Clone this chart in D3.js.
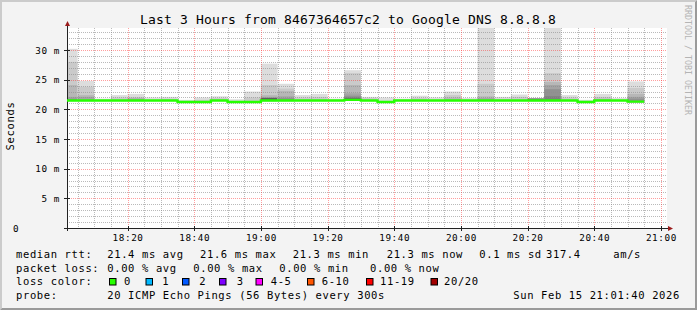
<!DOCTYPE html>
<html>
<head>
<meta charset="utf-8">
<script src="https://cdn.jsdelivr.net/npm/d3@7"></script>
<style>
  html, body { margin: 0; padding: 0; background: #f3f3f3; }
  svg { display: block; }
  text { font-family: "DejaVu Sans Mono", monospace; fill: #000; }
</style>
</head>
<body>
<svg id="chart" width="697" height="310"></svg>
<script>
'use strict';

// ---- data ----
const titleText = 'Last 3 Hours from 8467364657c2 to Google DNS 8.8.8.8';
const yMax = 33.71;                       // ms, top of the plot
const yMajorTicks = [0, 5, 10, 15, 20, 25, 30];
const yTickLabels = ['0', '5 m', '10 m', '15 m', '20 m', '25 m', '30 m'];

// one value per 5 minute step, 18:00 ... 20:50
const medianRtt = [
  21.5, 21.5, 21.5, 21.5, 21.5, 21.5, 21.5, 21.25, 21.25, 21.5,
  21.25, 21.25, 21.5, 21.5, 21.5, 21.5, 21.5, 21.6, 21.5, 21.25,
  21.5, 21.5, 21.5, 21.5, 21.5, 21.5, 21.5, 21.5, 21.5, 21.5,
  21.5, 21.25, 21.5, 21.5, 21.3
];
const minRtt = [
  21.4, 21.4, 21.4, 21.4, 21.4, 21.4, 21.4, 21.15, 21.15, 21.4,
  21.15, 21.15, 21.4, 21.4, 21.4, 21.4, 21.4, 21.5, 21.4, 21.15,
  21.4, 21.4, 21.4, 21.4, 21.4, 21.4, 21.4, 21.4, 21.4, 21.4,
  21.4, 21.15, 21.4, 21.4, 21.2
];
// highest pings of each step, slowest first (outer smoke bands)
const smokeTop = [
  [30.2, 28.0, 24.1, 22.1, 21.8],
  [24.8, 23.8, 22.4, 22.1],
  [21.8],
  [22.4, 22.0],
  [22.6, 22.1, 21.9, 21.8],
  [22.0],
  [22.1, 21.8],
  [21.6],
  [22.0, 21.6],
  [22.2, 21.9],
  [21.7],
  [23.0, 22.0],
  [27.7, 24.1, 22.4, 22.1, 21.95, 21.9, 21.9, 21.85],
  [24.3, 23.5, 23.1, 22.2, 21.9],
  [22.4, 22.0],
  [22.6, 22.1],
  [21.8],
  [26.6, 26.1, 24.1, 22.7, 22.3, 22.0, 21.95],
  [22.1, 21.9],
  [22.0],
  [21.8],
  [22.3, 21.9],
  [22.0],
  [23.0, 22.4, 22.0],
  [21.9],
  [38.0, 24.3, 22.2, 21.9],
  [22.1, 21.8],
  [22.5, 22.1],
  [21.9, 21.85, 21.85, 21.8, 21.8, 21.8],
  [38.5, 26.1, 24.6, 24.1, 23.4, 22.2],
  [22.4, 22.0],
  [21.6],
  [22.6, 22.1, 21.8],
  [21.9],
  [24.7, 23.6, 22.6, 22.1, 21.8]
];

const legendRtt = ['median rtt:', '21.4 ms avg', '21.6 ms max', '21.3 ms min', '21.3 ms now', '0.1 ms sd', '317.4', 'am/s'];
const legendLoss = ['packet loss:', '0.00 % avg', '0.00 % max', '0.00 % min', '0.00 % now'];
const lossLabels = ['0', '1', '2', '3', '4-5', '6-10', '11-19', '20/20'];
const lossColors = ['#26ff00', '#00b8ff', '#0059ff', '#7e00ff', '#ff00ff', '#ff5500', '#ff0000', '#a10000'];
const probeText = ['probe:', '20 ICMP Echo Pings (56 Bytes) every 300s', 'Sun Feb 15 21:01:40 2026'];

// ---- layout ----
const plot = {left: 67, right: 667, top: 28, bottom: 228};
const svg = d3.select('#chart');

const t0 = new Date(2026, 1, 15, 18, 1, 50);
const t1 = new Date(2026, 1, 15, 21, 1, 50);
const x = d3.scaleTime().domain([t0, t1]).range([plot.left, plot.right]);
const y = d3.scaleLinear().domain([0, yMax]).range([plot.bottom, plot.top]);
const step = d3.timeMinute.every(5);
const slots = step.range(new Date(2026, 1, 15, 18, 0), new Date(2026, 1, 15, 20, 55));

// background + 3d frame
svg.append('rect').attr('width', 697).attr('height', 310).attr('fill', '#f3f3f3');
svg.append('polygon').attr('points', '0,0 697,0 695,2 2,2 2,308 0,310').attr('fill', '#cbcbcb');
svg.append('polygon').attr('points', '697,0 697,310 0,310 2,308 695,308 695,2').attr('fill', '#9a9a9a');

svg.append('rect')
  .attr('x', plot.left).attr('y', plot.top)
  .attr('width', plot.right - plot.left).attr('height', plot.bottom - plot.top)
  .attr('fill', '#fff');

svg.append('clipPath').attr('id', 'clip').append('rect')
  .attr('x', plot.left).attr('y', plot.top)
  .attr('width', plot.right - plot.left).attr('height', plot.bottom - plot.top);

// smoke (smokeping grey scale, lighter outside)
const bandColor = k => {
  const c = Math.floor(190 / 10 * (10 - (k + 1))) + 50;
  return d3.rgb(c, c, c).formatHex();
};
const smoke = svg.append('g').attr('clip-path', 'url(#clip)');
slots.forEach((s, i) => {
  const xa = x(s), xb = x(step.offset(s, 1));
  smokeTop[i].forEach((v, k) => {
    smoke.append('rect')
      .attr('x', xa).attr('width', xb - xa)
      .attr('y', y(v)).attr('height', y(minRtt[i]) - y(v))
      .attr('fill', bandColor(k));
  });
});

// grid on top of the areas
const grid = svg.append('g').attr('clip-path', 'url(#clip)');
const majorT = x.ticks(d3.timeMinute.every(20));
const minorT = x.ticks(d3.timeMinute.every(5)).filter(t => t.getMinutes() % 20 !== 0);
const minorY = d3.range(1, 34).filter(v => v % 5 !== 0);
const minorCol = 'rgba(140,140,140,0.6)';
const majorCol = 'rgba(255,40,40,0.45)';

grid.selectAll('.vmin').data(minorT).enter().append('line')
  .attr('x1', d => Math.round(x(d)) + 0.5).attr('x2', d => Math.round(x(d)) + 0.5)
  .attr('y1', plot.top).attr('y2', plot.bottom)
  .attr('stroke', minorCol).attr('stroke-dasharray', '1,1');
grid.selectAll('.hmin').data(minorY).enter().append('line')
  .attr('x1', plot.left).attr('x2', plot.right)
  .attr('y1', d => Math.round(y(d)) + 0.5).attr('y2', d => Math.round(y(d)) + 0.5)
  .attr('stroke', minorCol).attr('stroke-dasharray', '1,1');
grid.selectAll('.vmaj').data(majorT).enter().append('line')
  .attr('x1', d => Math.round(x(d)) + 0.5).attr('x2', d => Math.round(x(d)) + 0.5)
  .attr('y1', plot.top).attr('y2', plot.bottom)
  .attr('stroke', majorCol).attr('stroke-dasharray', '1,1');
grid.selectAll('.hmaj').data(yMajorTicks.slice(1)).enter().append('line')
  .attr('x1', plot.left).attr('x2', plot.right)
  .attr('y1', d => Math.round(y(d)) + 0.5).attr('y2', d => Math.round(y(d)) + 0.5)
  .attr('stroke', majorCol).attr('stroke-dasharray', '1,1');

// axes
const axisCol = '#222';
svg.append('line').attr('x1', plot.left + 0.5).attr('x2', plot.left + 0.5)
  .attr('y1', plot.bottom + 3).attr('y2', plot.top - 4).attr('stroke', axisCol);
svg.append('line').attr('x1', plot.left - 3).attr('x2', plot.right + 4)
  .attr('y1', plot.bottom + 0.5).attr('y2', plot.bottom + 0.5).attr('stroke', axisCol);
svg.append('polygon').attr('fill', '#9b1c1c')
  .attr('points', `${plot.left - 2},${plot.top - 2} ${plot.left + 3},${plot.top - 2} ${plot.left + 0.5},${plot.top - 7}`);
svg.append('polygon').attr('fill', '#9b1c1c')
  .attr('points', `${plot.right + 1},${plot.bottom - 2} ${plot.right + 1},${plot.bottom + 3} ${plot.right + 6},${plot.bottom + 0.5}`);

svg.selectAll('.ytk').data(yMajorTicks.slice(1)).enter().append('line')
  .attr('x1', plot.left - 3).attr('x2', plot.left + 3)
  .attr('y1', d => Math.round(y(d)) + 0.5).attr('y2', d => Math.round(y(d)) + 0.5)
  .attr('stroke', axisCol);
svg.selectAll('.xtk').data(majorT).enter().append('line')
  .attr('x1', d => Math.round(x(d)) + 0.5).attr('x2', d => Math.round(x(d)) + 0.5)
  .attr('y1', plot.bottom - 2).attr('y2', plot.bottom + 3)
  .attr('stroke', axisCol);

// median line
const line = d3.line().curve(d3.curveStepAfter).x(d => x(d[0])).y(d => y(d[1]));
const medPts = slots.map((s, i) => [s, medianRtt[i]]);
medPts.push([step.offset(slots[slots.length - 1], 1), medianRtt[medianRtt.length - 1]]);
svg.append('path').attr('clip-path', 'url(#clip)')
  .attr('d', line(medPts)).attr('fill', 'none')
  .attr('stroke', lossColors[0]).attr('stroke-width', 2.4);

// labels
const axisFont = {size: '9.3px', ls: '0.6px'};
svg.selectAll('.ylab').data(yMajorTicks).enter().append('text')
  .attr('x', (d, i) => i === 0 ? 13 : 60)
  .attr('y', d => y(d) + 3.5)
  .attr('text-anchor', (d, i) => i === 0 ? 'start' : 'end')
  .style('font-size', axisFont.size).style('letter-spacing', axisFont.ls)
  .text((d, i) => yTickLabels[i]);

const fmt = d3.timeFormat('%H:%M');
svg.selectAll('.xlab').data(majorT).enter().append('text')
  .attr('x', d => x(d) + 0.5).attr('y', 240.7)
  .attr('text-anchor', 'middle')
  .style('font-size', axisFont.size).style('letter-spacing', axisFont.ls)
  .text(d => fmt(d));

svg.append('text').attr('x', 348).attr('y', 23.5).attr('text-anchor', 'middle')
  .style('font-size', '13px').style('letter-spacing', '0.17px').text(titleText);

svg.append('text').attr('transform', 'translate(13.5,126) rotate(-90)')
  .attr('text-anchor', 'middle').style('font-size', '10.5px').style('letter-spacing', '0.65px')
  .text('Seconds');

svg.append('text').attr('transform', 'translate(684.5,5) rotate(90)')
  .style('font-size', '8.3px').style('fill', '#b4b4b4')
  .text('RRDTOOL / TOBI OETIKER');

// legend
const lg = svg.append('g').style('font-size', '10.5px').style('letter-spacing', '0.62px');
const putRow = (items, xs, yy) => items.forEach((s, i) => {
  lg.append('text').attr('x', xs[i]).attr('y', yy).attr('xml:space', 'preserve').text(s);
});
putRow(legendRtt, [16, 107.3, 200, 292.7, 386.7, 479.3, 546, 613.3], 258);
putRow(legendLoss, [16, 107.3, 193.3, 279.3, 370], 271.7);
putRow(['loss color:'], [16], 285.3);
const boxX = [109.5, 146, 182.5, 219.5, 256, 307.5, 366.5, 431];
const lblX = [124, 162.3, 199.3, 236.7, 270.7, 321.7, 380, 444];
lossLabels.forEach((l, i) => {
  lg.append('rect').attr('x', boxX[i]).attr('y', 278.5).attr('width', 6.5).attr('height', 6.5)
    .attr('fill', lossColors[i]).attr('stroke', '#000').attr('stroke-width', 1);
  lg.append('text').attr('x', lblX[i]).attr('y', 285.3).text(l);
});
putRow(probeText, [16, 107.3, 513.3], 299);
</script>
</body>
</html>
